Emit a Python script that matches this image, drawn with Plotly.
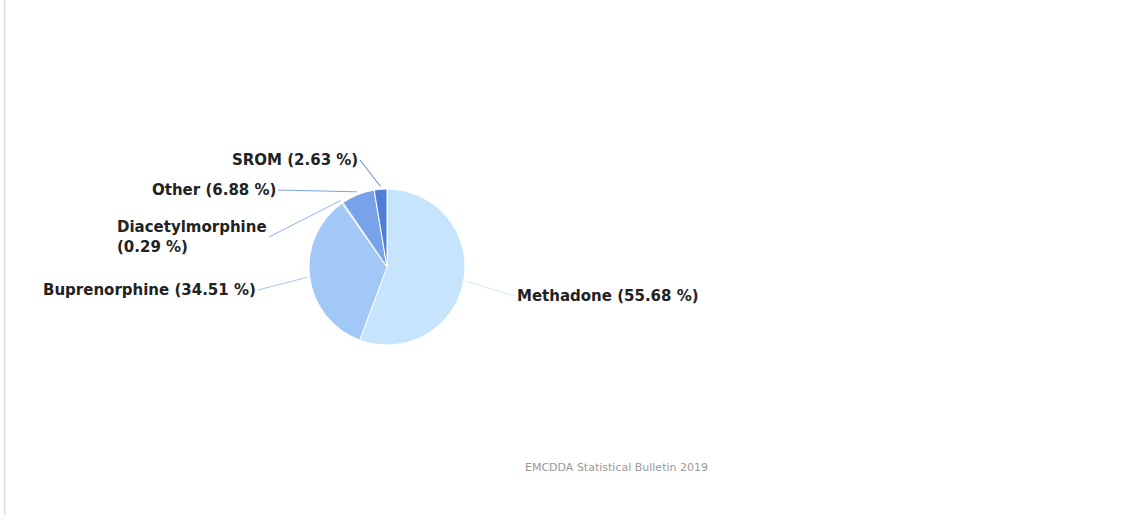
import math
import plotly.graph_objects as go

# ---- data ----
categories = ["Methadone", "Buprenorphine", "Diacetylmorphine", "Other", "SROM"]
shares = [55.68, 34.51, 0.29, 6.88, 2.63]
slice_colors = ["#c6e4fc", "#a2c8f8", "#8cb4f0", "#78a3ea", "#4f7ed4"]
label_texts = ["Methadone (55.68 %)", "Buprenorphine (34.51 %)",
               "Diacetylmorphine<br>(0.29 %)", "Other (6.88 %)", "SROM (2.63 %)"]
credit_text = "EMCDDA Statistical Bulletin 2019"

W, H = 1128, 523
CX, CY, R = 387, 267, 78  # pie centre / radius in pixels

# label tail positions (pixels) and anchors
label_pos = [(515, 296, "left"), (258, 290, "right"), (269, 237, "right"),
             (278, 190, "right"), (360, 160, "right")]

fig = go.Figure()
fig.add_trace(go.Pie(
    labels=categories, values=shares, sort=False, direction="clockwise",
    rotation=0, textinfo="none", hoverinfo="label+percent",
    marker=dict(colors=slice_colors, line=dict(color="#ffffff", width=1)),
    domain=dict(x=[(CX - R) / W, (CX + R) / W], y=[1 - (CY + R) / H, 1 - (CY - R) / H]),
    showlegend=False,
))

total = sum(shares)
cum = 0.0
annotations = []
for name, v, col, txt, (lx, ly, anc) in zip(categories, shares, slice_colors, label_texts, label_pos):
    theta = 2 * math.pi * (cum + v / 2) / total
    cum += v
    hx = CX + (R + 3) * math.sin(theta)
    hy = CY - (R + 3) * math.cos(theta)
    annotations.append(dict(
        x=hx / W, y=1 - hy / H, xref="paper", yref="paper",
        ax=lx - hx, ay=ly - hy, axref="pixel", ayref="pixel",
        text="<b>" + txt + "</b>", showarrow=True, arrowhead=0, arrowwidth=1,
        arrowcolor=col if name != "Methadone" else "#d8e8f6",
        xanchor=anc, yanchor="middle", align="left",
        font=dict(family="DejaVu Sans", size=15, color="#222222"),
    ))

annotations.append(dict(
    x=710 / W, y=1 - 467 / H, xref="paper", yref="paper", showarrow=False,
    text=credit_text, xanchor="right", yanchor="middle",
    font=dict(family="DejaVu Sans", size=11, color="#999999"),
))

fig.update_layout(
    width=W, height=H, margin=dict(l=0, r=0, t=0, b=0),
    paper_bgcolor="#ffffff", plot_bgcolor="#ffffff",
    annotations=annotations,
    shapes=[dict(type="line", xref="paper", yref="paper",
                 x0=4.5 / W, x1=4.5 / W, y0=1, y1=1 - 515 / H,
                 line=dict(color="#dddddd", width=1.5))],
)

fig.write_html("out.html", config={"displayModeBar": False},
               post_script="document.body.style.margin='0';")
